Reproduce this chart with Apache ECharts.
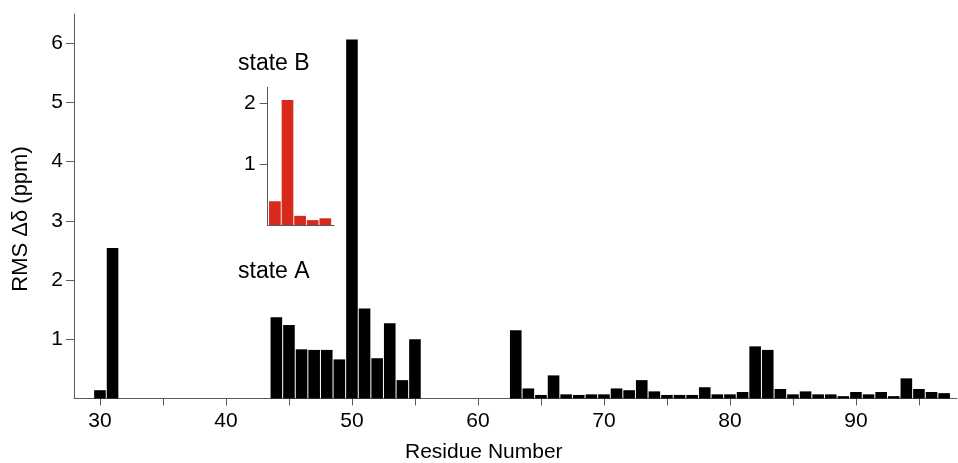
<!DOCTYPE html>
<html>
<head>
<meta charset="utf-8">
<title>RMS shift per residue</title>
<script src="https://cdn.jsdelivr.net/npm/echarts@6/dist/echarts.min.js"></script>
<style>
	html, body { margin: 0; padding: 0; background: #fff; }
	#rms_bars { width: 958px; height: 463px; }
</style>
</head>
<body>
<div id="rms_bars"></div>
<script>
// state A: residue number and RMS shift (ppm)
var residuesA = [30, 31, 44, 45, 46, 47, 48, 49, 50, 51, 52, 53, 54, 55,
	63, 64, 65, 66, 67, 68, 69, 70, 71, 72, 73, 74, 75, 76, 77, 78, 79, 80,
	81, 82, 83, 84, 85, 86, 87, 88, 89, 90, 91, 92, 93, 94, 95, 96, 97];
var rmsA = [0.14, 2.54, 1.37, 1.24, 0.83, 0.82, 0.82, 0.66, 6.06, 1.52, 0.68, 1.27, 0.31, 1.0,
	1.15, 0.17, 0.06, 0.39, 0.07, 0.06, 0.07, 0.07, 0.17, 0.14, 0.31, 0.12, 0.06, 0.06, 0.06, 0.19, 0.07, 0.07,
	0.11, 0.88, 0.82, 0.16, 0.07, 0.12, 0.07, 0.07, 0.04, 0.11, 0.07, 0.11, 0.04, 0.34, 0.16, 0.11, 0.09];

// state B (inset): bar slot and RMS shift (ppm)
var slotsB = [1, 2, 3, 4, 5];
var rmsB = [0.39, 2.05, 0.15, 0.08, 0.11];

// tick labels
var xTicks = [30, 35, 40, 45, 50, 55, 60, 65, 70, 75, 80, 85, 90, 95];
var xLabels = [30, 40, 50, 60, 70, 80, 90];
var yTicks = [1, 2, 3, 4, 5, 6];
var insetTicks = [1, 2];

var fontName = '"Liberation Sans", Arial, sans-serif';
var axisGray = '#5a5a5a';

var chart = echarts.init(document.getElementById('rms_bars'), null, { renderer: 'canvas' });

function pairs(xs, ys) {
	var out = [];
	for (var i = 0; i < xs.length; i++) {
		out.push([xs[i], ys[i]]);
	}
	return out;
}

// Add options
var option = {
	backgroundColor: '#fff',
	animation: false,
	grid: [
		{ left: 74, right: 1, top: 14, height: 384.5 },
		{ left: 267.7, top: 87.3, width: 66.3, height: 137.7 }
	],
	xAxis: [{
		type: 'value',
		gridIndex: 0,
		min: 27.94,
		max: 98.02,
		splitLine: { show: false },
		axisLine: { lineStyle: { color: axisGray, width: 1 } },
		axisTick: { show: true, length: 7, lineStyle: { color: axisGray }, customValues: xTicks },
		axisLabel: { color: '#000', fontSize: 21, fontFamily: fontName, margin: 12, customValues: xLabels }
	}, {
		type: 'value',
		gridIndex: 1,
		min: 0.43,
		max: 5.69,
		splitLine: { show: false },
		axisLine: { lineStyle: { color: axisGray, width: 1 } },
		axisTick: { show: false },
		axisLabel: { show: false }
	}],
	yAxis: [{
		type: 'value',
		gridIndex: 0,
		min: 0,
		max: 6.49,
		splitLine: { show: false },
		axisLine: { show: true, lineStyle: { color: axisGray, width: 1 } },
		axisTick: { show: true, length: 8, lineStyle: { color: axisGray }, customValues: yTicks },
		axisLabel: { color: '#000', fontSize: 21, fontFamily: fontName, margin: 11, customValues: yTicks }
	}, {
		type: 'value',
		gridIndex: 1,
		min: 0,
		max: 2.26,
		splitLine: { show: false },
		axisLine: { show: true, lineStyle: { color: axisGray, width: 1 } },
		axisTick: { show: true, length: 8, lineStyle: { color: axisGray }, customValues: insetTicks },
		axisLabel: { color: '#000', fontSize: 21, fontFamily: fontName, margin: 12, customValues: insetTicks }
	}],
	series: [{
		name: 'state A',
		type: 'bar',
		xAxisIndex: 0,
		yAxisIndex: 0,
		barWidth: 11.6,
		itemStyle: { color: '#000' },
		data: pairs(residuesA, rmsA)
	}, {
		name: 'state B',
		type: 'bar',
		xAxisIndex: 1,
		yAxisIndex: 1,
		barWidth: 11.7,
		itemStyle: { color: '#d9291c' },
		data: pairs(slotsB, rmsB)
	}],
	// titles and annotations
	graphic: [{
		type: 'text',
		x: 21,
		y: 219,
		rotation: Math.PI / 2,
		style: { text: 'RMS \u0394\u03b4 (ppm)', fill: '#000', fontSize: 22, fontFamily: fontName, align: 'center', verticalAlign: 'middle' }
	}, {
		type: 'text',
		x: 405,
		y: 452,
		style: { text: 'Residue Number', fill: '#000', fontSize: 21, fontFamily: fontName, align: 'left', verticalAlign: 'middle' }
	}, {
		type: 'text',
		x: 238,
		y: 64,
		style: { text: 'state B', fill: '#000', fontSize: 23, fontFamily: fontName, align: 'left', verticalAlign: 'middle' }
	}, {
		type: 'text',
		x: 238,
		y: 272,
		style: { text: 'state A', fill: '#000', fontSize: 23, fontFamily: fontName, align: 'left', verticalAlign: 'middle' }
	}]
};

// Apply options
chart.setOption(option);
</script>
</body>
</html>
